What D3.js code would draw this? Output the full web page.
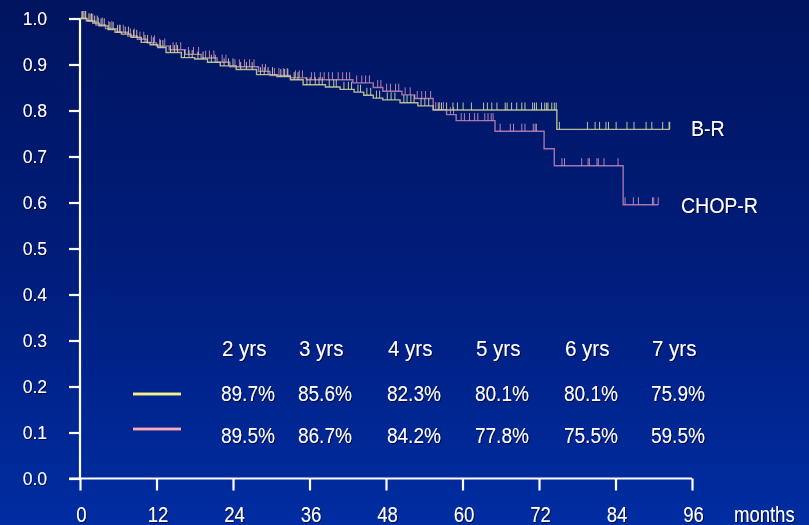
<!DOCTYPE html>
<html>
<head>
<meta charset="utf-8">
<script src="https://cdn.jsdelivr.net/npm/d3@7"></script>
<style>
  html, body { margin: 0; padding: 0; background: #001a70; }
  svg { display: block; }
  text { font-family: "Liberation Sans", Arial, sans-serif; fill: #ffffff; }
</style>
</head>
<body>
<svg id="chart" width="809" height="525"></svg>
<script>
// ---- data -------------------------------------------------------------
const seriesNames = ["B-R", "CHOP-R"];

// Kaplan-Meier steps: month of event and survival after it
const brStepMonths = [1.0, 2.0, 3.0, 4.4, 5.5, 6.5, 8.0, 9.6, 11.0, 12.2, 13.5, 15.9, 18.0, 20.0, 22.0, 24.5,
  27.7, 30.9, 33.0, 35.0, 38.5, 40.8, 43.0, 44.5, 46.0, 47.5, 50.2, 53.0, 55.4, 74.8];
const brStepValues = [0.995, 0.990, 0.984, 0.976, 0.970, 0.966, 0.959, 0.948, 0.943, 0.937, 0.926, 0.915, 0.912, 0.905, 0.897, 0.889,
  0.878, 0.874, 0.867, 0.856, 0.851, 0.846, 0.840, 0.833, 0.827, 0.823, 0.817, 0.810, 0.801, 0.759];
const brLastMonth = 92.5;

const chopStepMonths = [1.2, 2.5, 4.0, 5.8, 7.5, 9.0, 10.5, 12.0, 14.0, 16.5, 19.0, 21.5, 23.5, 28.0, 29.8, 33.0,
  35.5, 42.8, 46.0, 47.5, 50.5, 52.5, 55.4, 57.5, 59.0, 65.1, 72.8, 74.4, 85.2];
const chopStepValues = [0.994, 0.986, 0.978, 0.970, 0.962, 0.955, 0.947, 0.940, 0.932, 0.922, 0.914, 0.905, 0.895, 0.885, 0.876, 0.871,
  0.867, 0.860, 0.850, 0.842, 0.834, 0.826, 0.802, 0.791, 0.778, 0.755, 0.717, 0.680, 0.595];
const chopLastMonth = 90.7;

// censored observations (months)
const brCensored = [0.3, 0.6, 0.9, 1.4, 1.8, 2.3, 2.7, 3.3, 3.8, 4.7, 5.2, 5.9, 6.3, 7.1, 7.6, 8.4, 8.9, 10.2, 10.6, 11.5,
  12.6, 13.0, 14.2, 14.8, 15.3, 16.4, 17.1, 17.6, 18.5, 19.3, 20.6, 21.2, 22.6, 23.3, 24.0, 25.2, 26.1, 27.0, 28.3, 28.9,
  29.5, 30.2, 31.5, 32.1, 32.6, 33.6, 34.2, 35.6, 36.1, 36.9, 37.5, 38.0, 39.1, 39.8, 40.2, 41.4, 42.1, 42.6, 43.6, 44.0,
  45.0, 45.6, 46.5, 47.0, 48.2, 48.8, 49.4, 50.8, 51.3, 51.9, 52.4, 53.5, 54.1, 54.7,
  56.2, 56.7, 57.5, 58.5, 59.2, 60.1, 61.4, 63.3, 63.9, 64.6, 65.4, 66.7, 67.0, 67.7, 68.5, 69.3, 69.8, 71.0, 71.3, 71.6,
  72.4, 72.9, 73.2, 73.4, 74.0, 74.4, 74.7,
  75.2, 79.6, 80.8, 81.5, 82.5, 82.9, 84.1, 85.8, 86.9, 88.8, 89.7, 91.4, 92.4, 92.5];
const chopCensored = [0.4, 0.8, 1.6, 2.0, 2.9, 3.5, 4.5, 5.0, 6.2, 6.8, 7.9, 8.5, 9.4, 10.0, 11.2, 11.7, 12.5, 13.3, 14.6, 15.1,
  15.8, 17.0, 17.8, 18.6, 19.7, 20.3, 21.0, 22.3, 22.9, 24.3, 25.0, 25.8, 26.6, 27.3, 28.6, 29.1, 30.5, 31.2, 31.9, 32.5,
  33.8, 34.4, 34.9, 36.3, 36.8, 37.7, 38.3, 39.0, 39.6, 40.5, 41.2, 41.8, 42.3, 43.4, 44.2, 44.8, 45.4, 46.7, 47.2, 48.1,
  48.7, 49.5, 50.0, 51.0, 51.8, 52.9, 53.6, 54.2, 55.0, 55.8, 56.4, 57.0, 58.1, 58.6,
  59.8, 60.3, 61.1, 61.9, 62.4, 63.5, 64.0, 64.5, 64.8, 65.9, 67.5, 68.0, 69.3, 69.8, 71.1, 71.4, 71.6,
  75.6, 76.0, 78.7, 79.7, 79.9, 81.1, 81.3, 82.2, 84.4, 85.5, 86.8, 87.6, 89.8, 90.0, 90.7];

// axis ticks
const xTicks = [0, 12, 24, 36, 48, 60, 72, 84, 96];
const yTicks = [0, 0.1, 0.2, 0.3, 0.4, 0.5, 0.6, 0.7, 0.8, 0.9, 1.0];
const xAxisTitle = "months";

// survival-rate table
const tableHeaders = ["2 yrs", "3 yrs", "4 yrs", "5 yrs", "6 yrs", "7 yrs"];
const brRates = ["89.7%", "85.6%", "82.3%", "80.1%", "80.1%", "75.9%"];
const chopRates = ["89.5%", "86.7%", "84.2%", "77.8%", "75.5%", "59.5%"];

// ---- drawing ----------------------------------------------------------
const svg = d3.select("#chart");
const W = 809, H = 525;

const defs = svg.append("defs");
const bg = defs.append("linearGradient").attr("id", "bg")
  .attr("x1", 0).attr("y1", 0).attr("x2", 0).attr("y2", 1);
bg.append("stop").attr("offset", "0%").attr("stop-color", "#00145f");
bg.append("stop").attr("offset", "55%").attr("stop-color", "#001e7e");
bg.append("stop").attr("offset", "100%").attr("stop-color", "#002da2");

const soft = defs.append("filter").attr("id", "soft")
  .attr("x", "-5%").attr("y", "-5%").attr("width", "110%").attr("height", "110%");
soft.append("feGaussianBlur").attr("stdDeviation", 0.45);

const shadow = defs.append("filter").attr("id", "shadow")
  .attr("x", "-10%").attr("y", "-20%").attr("width", "130%").attr("height", "150%");
shadow.append("feDropShadow").attr("dx", 1).attr("dy", 1).attr("stdDeviation", 0.6)
  .attr("flood-color", "#000020").attr("flood-opacity", 0.8);

svg.append("rect").attr("width", W).attr("height", H).attr("fill", "url(#bg)");

const x = d3.scaleLinear().domain([0, 96]).range([80, 692]);
const y = d3.scaleLinear().domain([0, 1]).range([478.5, 18.5]);

// axes
const axisG = svg.append("g").attr("class", "axes");
const yAxis = axisG.append("g").attr("transform", "translate(80,0)")
  .call(d3.axisLeft(y).tickValues(yTicks).tickSize(11).tickPadding(0).tickFormat(() => ""));
const xAxis = axisG.append("g").attr("transform", "translate(0,478.5)")
  .call(d3.axisBottom(x).tickValues(xTicks).tickSize(12).tickPadding(0).tickFormat(() => ""));
[yAxis, xAxis].forEach(g => {
  g.select(".domain").attr("stroke", "#ffffff").attr("stroke-width", 2.2);
  g.selectAll(".tick line").attr("stroke", "#ffffff").attr("stroke-width", 2.2);
});
yAxis.select(".domain").attr("d", "M0," + y(1) + "V" + y(0));
xAxis.select(".domain").attr("d", "M" + (x(0) - 11) + ",0H" + x(96));

const labelG = svg.append("g").attr("filter", "url(#shadow)");

labelG.selectAll("text.ylab").data(yTicks).join("text")
  .attr("class", "ylab")
  .attr("transform", d => `translate(47,${y(d) + 6}) scale(1,1.05)`)
  .attr("text-anchor", "end")
  .style("font-size", "17.5px")
  .text(d => d.toFixed(1));

labelG.selectAll("text.xlab").data(xTicks).join("text")
  .attr("class", "xlab")
  .attr("transform", d => `translate(${x(d) + 1.5},522) scale(1,1.22)`)
  .attr("text-anchor", "middle")
  .style("font-size", "18.5px")
  .text(d => d);

labelG.append("text")
  .attr("transform", "translate(734,522) scale(1,1.22)")
  .style("font-size", "18.5px")
  .text(xAxisTitle);

// survival curves
function stepPoints(months, values, last) {
  const pts = [[0, 1]];
  months.forEach((m, i) => pts.push([m, values[i]]));
  pts.push([last, values[values.length - 1]]);
  return pts;
}
function survivalAt(months, values, t) {
  let s = 1;
  months.forEach((m, i) => { if (m <= t) s = values[i]; });
  return s;
}
const stepLine = d3.line().x(d => x(d[0])).y(d => y(d[1])).curve(d3.curveStepAfter);

const curves = [
  { name: seriesNames[1], months: chopStepMonths, values: chopStepValues, last: chopLastMonth,
    censored: chopCensored, line: "#b480b2", tick: "#e096c0" },
  { name: seriesNames[0], months: brStepMonths, values: brStepValues, last: brLastMonth,
    censored: brCensored, line: "#c6cc98", tick: "#e6e6a4" }
];

const curveG = svg.append("g").attr("filter", "url(#soft)");
curves.forEach(c => {
  const g = curveG.append("g");
  g.append("path")
    .attr("d", stepLine(stepPoints(c.months, c.values, c.last)))
    .attr("fill", "none")
    .attr("stroke", c.line)
    .attr("stroke-width", 1.4)
    .attr("stroke-opacity", 0.9);
  g.selectAll("line").data(c.censored).join("line")
    .attr("x1", d => x(d)).attr("x2", d => x(d))
    .attr("y1", d => y(survivalAt(c.months, c.values, d)))
    .attr("y2", d => y(survivalAt(c.months, c.values, d)) - 7.5)
    .attr("stroke", c.tick)
    .attr("stroke-width", 1)
    .attr("stroke-opacity", 0.82);
});

// curve labels
labelG.append("text")
  .attr("transform", `translate(691,${y(0.759) + 7}) scale(1,1.1)`)
  .style("font-size", "19.5px")
  .text(seriesNames[0]);
labelG.append("text")
  .attr("transform", `translate(681,${y(0.595) + 8}) scale(1,1.1)`)
  .style("font-size", "19.5px")
  .text(seriesNames[1]);

// survival-rate table
const colX = [222, 299, 388, 476, 565, 652];
labelG.selectAll("text.hdr").data(tableHeaders).join("text")
  .attr("class", "hdr")
  .attr("transform", (d, i) => `translate(${colX[i]},356) scale(1,1.08)`)
  .style("font-size", "20.5px")
  .text(d => d);
labelG.selectAll("text.br").data(brRates).join("text")
  .attr("class", "br")
  .attr("transform", (d, i) => `translate(${colX[i] - 1},400.5) scale(1,1.12)`)
  .style("font-size", "19px")
  .text(d => d);
labelG.selectAll("text.chop").data(chopRates).join("text")
  .attr("class", "chop")
  .attr("transform", (d, i) => `translate(${colX[i] - 1},442.5) scale(1,1.12)`)
  .style("font-size", "19px")
  .text(d => d);

// legend swatches
const legendRows = [
  { y: 394, outer: "#e8e070", inner: "#fffcc0" },
  { y: 429, outer: "#e88a9c", inner: "#ffd0d8" }
];
legendRows.forEach(r => {
  svg.append("line").attr("x1", 133).attr("x2", 181).attr("y1", r.y).attr("y2", r.y)
    .attr("stroke", r.outer).attr("stroke-width", 3);
  svg.append("line").attr("x1", 133).attr("x2", 181).attr("y1", r.y).attr("y2", r.y)
    .attr("stroke", r.inner).attr("stroke-width", 1);
});
</script>
</body>
</html>
